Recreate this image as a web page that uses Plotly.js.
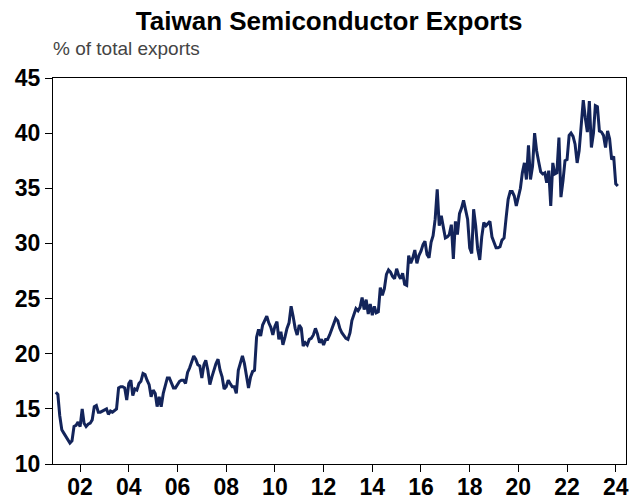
<!DOCTYPE html>
<html><head><meta charset="utf-8">
<script src="https://cdn.plot.ly/plotly-3.0.1.min.js"></script>
<style>html,body{margin:0;padding:0;background:#fff;}#chart{width:638px;height:499px;}</style>
</head><body><div id="chart"></div>
<script>
// Monthly share of semiconductors in Taiwan's total exports (%), Jan 2001 onward
const firstYear = 2001;
const exportShare = [
  16.5, 16.3, 14.4, 13.1, 12.8, 12.5, 12.3, 11.9, 12.1, 13.4, 13.5, 13.8,
  13.4, 15.0, 13.7, 13.4, 13.6, 13.7, 14.0, 15.2, 15.3, 14.7, 14.7, 14.8,
  14.9, 15.0, 14.5, 14.8, 14.7, 14.9, 15.0, 16.9, 17.0, 17.0, 16.9, 15.8,
  17.3, 17.6, 16.2, 16.8, 16.7, 17.3, 17.5, 18.2, 18.1, 17.6, 17.2, 16.1,
  16.7, 16.4, 15.2, 16.1, 15.2, 16.4, 17.2, 17.8, 17.8, 17.4, 16.9, 16.9,
  17.2, 17.5, 17.6, 17.6, 17.3, 18.3, 18.7, 19.3, 19.8, 19.5, 19.0, 18.9,
  17.8, 19.0, 19.4, 18.5, 17.2, 17.9, 18.6, 19.1, 19.5, 18.5, 17.9, 16.8,
  17.0, 17.6, 17.3, 17.0, 17.0, 16.4, 18.5, 19.3, 19.8, 19.1, 18.0, 16.9,
  17.9, 18.4, 18.5, 21.5, 22.2, 21.6, 22.6, 23.0, 23.4, 22.8, 22.4, 21.7,
  22.5, 22.9, 21.3, 22.0, 20.8, 21.5, 22.3, 22.8, 24.3, 23.4, 22.3, 21.7,
  22.6, 22.3, 20.7, 21.0, 20.8, 21.3, 21.4, 21.7, 22.3, 21.8, 21.0, 21.3,
  20.8, 21.3, 21.3, 21.7, 22.2, 22.7, 23.2, 23.0, 22.3, 21.9, 21.6, 21.4,
  21.3, 21.9, 23.0, 23.6, 24.1, 23.9, 24.2, 25.1, 24.0, 24.9, 23.6, 24.5,
  23.5, 24.3, 23.7, 23.8, 26.0, 25.3, 25.9, 27.2, 27.6, 27.4, 27.0, 26.8,
  27.7, 27.1, 26.8, 27.3, 26.3, 26.2, 28.9, 28.2, 28.7, 29.4, 28.2, 28.9,
  29.3, 29.9, 30.2, 29.0, 28.7, 30.1, 30.7, 32.2, 34.9, 31.6, 32.5, 31.5,
  30.5, 30.6, 30.8, 31.7, 28.6, 32.0, 30.8, 32.7, 33.2, 33.9, 33.1, 32.2,
  29.6, 29.1, 33.1, 31.6, 29.5, 28.5, 30.6, 31.9, 31.6, 31.8, 32.0, 30.6,
  30.1, 29.6, 29.6, 29.7, 30.3, 30.5, 32.3, 34.0, 34.7, 34.7, 34.3, 33.4,
  34.2, 35.0, 36.4, 37.3, 35.8, 38.9, 35.8, 37.0, 40.0, 38.4, 37.4, 36.5,
  36.3, 36.4, 35.5, 36.6, 33.4, 37.3, 36.3, 36.4, 39.6, 34.2, 35.7, 37.5,
  37.6, 39.8, 40.0, 39.7, 39.0, 37.3, 38.4, 41.0, 43.0, 41.4, 40.1, 42.9,
  38.7, 40.0, 42.5, 42.4, 40.2, 40.1, 39.8, 38.7, 40.2, 39.5, 37.6, 37.9,
  35.4, 35.2
];
const tickYears = [2002, 2004, 2006, 2008, 2010, 2012, 2014, 2016, 2018, 2020, 2022, 2024];
const tickLabels = ["02", "04", "06", "08", "10", "12", "14", "16", "18", "20", "22", "24"];
const yTicks = [10, 15, 20, 25, 30, 35, 40, 45];

const months = exportShare.map((v, i) => {
  const y = firstYear + Math.floor(i / 12);
  const m = (i % 12) + 1;
  return y + "-" + String(m).padStart(2, "0") + "-01";
});
const tickVals = tickYears.map(y => y + "-01-01");

const trace = {
  x: months, y: exportShare, type: "scatter", mode: "lines",
  line: {color: "#13245a", width: 3}, hoverinfo: "skip"
};

const FONT = "Liberation Sans, Arial, sans-serif";
const layout = {
  width: 638, height: 499,
  margin: {l: 53, r: 12, t: 78, b: 35, pad: 0},
  paper_bgcolor: "#fff", plot_bgcolor: "#fff",
  showlegend: false,
  title: {
    text: "<b>Taiwan Semiconductor Exports</b>",
    font: {family: FONT, size: 26, color: "#000"},
    xref: "container", x: 0.516, xanchor: "center",
    yref: "container", y: 1 - 21/499, yanchor: "middle"
  },
  xaxis: {
    type: "date", range: ["2000-11-20", "2024-06-03"],
    tickmode: "array", tickvals: tickVals, ticktext: tickLabels,
    ticks: "outside", ticklen: 7, tickwidth: 1, tickcolor: "#000",
    ticklabelstandoff: -5,
    showline: true, linecolor: "#000", linewidth: 1, mirror: true,
    showgrid: false, zeroline: false,
    tickfont: {family: FONT, size: 23, color: "#000", weight: "bold"},
    fixedrange: true
  },
  yaxis: {
    range: [10, 45], tickmode: "array", tickvals: yTicks,
    ticks: "outside", ticklen: 7, tickwidth: 1, tickcolor: "#000",
    showline: true, linecolor: "#000", linewidth: 1, mirror: true,
    showgrid: false, zeroline: false,
    tickfont: {family: FONT, size: 23, color: "#000", weight: "bold"},
    fixedrange: true
  },
  annotations: [{
    text: "% of total exports", xref: "paper", yref: "paper",
    x: 0, y: 1, xanchor: "left", yanchor: "bottom", yshift: 17, xshift: -2,
    showarrow: false,
    font: {family: FONT, size: 19, color: "#444"}
  }]
};

Plotly.newPlot("chart", [trace], layout, {displayModeBar: false, staticPlot: true});
</script></body></html>
